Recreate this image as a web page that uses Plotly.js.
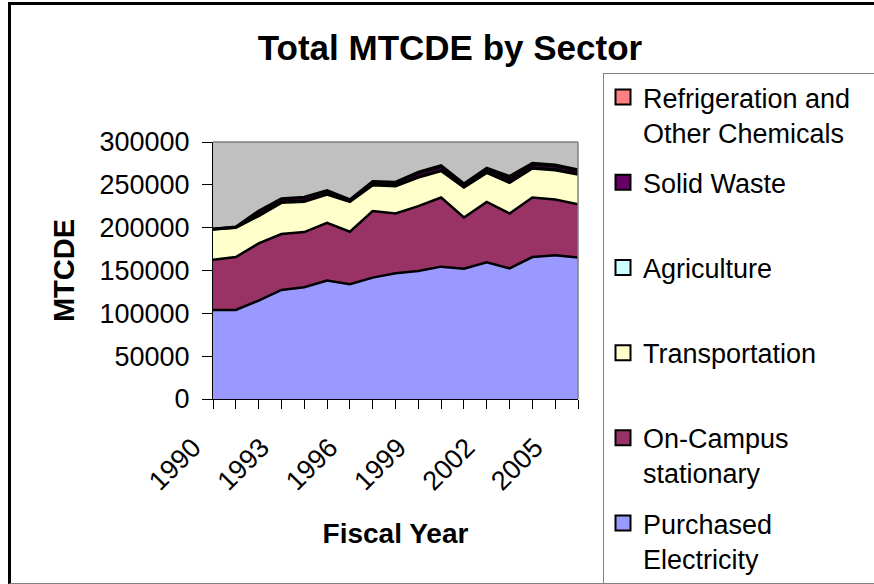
<!DOCTYPE html>
<html>
<head>
<meta charset="utf-8">
<script src="https://cdn.plot.ly/plotly-3.0.1.min.js"></script>
<style>
  html, body { margin: 0; padding: 0; background: #fff; overflow: hidden; }
  #wrap { position: relative; width: 874px; height: 584px; overflow: hidden; }
  #chart { position: absolute; left: 0; top: 0; width: 874px; height: 584px; }
  #frame { position: absolute; left: 8px; top: 2px; width: 900px; height: 578px;
           border-left: 3px solid #000; border-top: 3px solid #000; border-bottom: 1px solid #808080;
           pointer-events: none; }
  #legendbox { position: absolute; left: 603px; top: 73px; width: 400px; height: 600px;
           border-left: 1px solid #808080; border-top: 1px solid #808080; pointer-events: none; }
</style>
</head>
<body>
<div id="wrap">
  <div id="chart"></div>
  <div id="frame"></div>
  <div id="legendbox"></div>
</div>
<script>
// ---- data ----
const years = [1990, 1991, 1992, 1993, 1994, 1995, 1996, 1997, 1998, 1999, 2000, 2001, 2002, 2003, 2004, 2005, 2006];
const tickLabels = ['1990', '', '', '1993', '', '', '1996', '', '', '1999', '', '', '2002', '', '', '2005', ''];

const purchasedElectricity = [104000, 104000, 114900, 127300, 130400, 138200, 133900, 141700, 146700, 149400, 154500, 152100, 159500, 152500, 165700, 167700, 165300];
const onCampusStationary   = [58600, 61700, 66700, 65200, 64400, 67500, 61300, 77600, 69900, 75700, 80700, 59800, 70600, 64100, 69500, 65200, 62100];
const transportation       = [35300, 34200, 31900, 36500, 35300, 33000, 34900, 30200, 31800, 33400, 31000, 34900, 33800, 35700, 33800, 34100, 34600];
const agriculture          = [300, 300, 1200, 1200, 1200, 1200, 1100, 1100, 1100, 1100, 1100, 1100, 1100, 1100, 1100, 1100, 1100];
const solidWaste           = [300, 500, 3500, 3000, 3300, 2800, 1200, 2600, 2800, 3800, 3800, 2600, 3300, 3700, 3500, 3700, 3200];
const refrigeration        = [200, 300, 1500, 800, 1200, 1000, 500, 1000, 1100, 1600, 1600, 1000, 1500, 3000, 1800, 1800, 1500];

const seriesNames = ['Purchased<br>Electricity', 'On-Campus<br>stationary', 'Transportation<br> ', 'Agriculture<br> ', 'Solid Waste<br> ', 'Refrigeration and<br>Other Chemicals'];
const seriesColors = ['#9999FF', '#993366', '#FFFFCC', '#CCFFFF', '#660066', '#FF8080'];
const seriesValues = [purchasedElectricity, onCampusStationary, transportation, agriculture, solidWaste, refrigeration];

const yTicks = [0, 50000, 100000, 150000, 200000, 250000, 300000];

// ---- traces ----
const FONT = 'Liberation Sans, Arial, sans-serif';
const traces = [];
seriesValues.forEach((vals, i) => {
  traces.push({
    type: 'scatter', mode: 'lines', x: years, y: vals,
    stackgroup: 'one', fillcolor: seriesColors[i],
    line: { color: '#000', width: 2.5 },
    showlegend: false, hoverinfo: 'skip'
  });
});
// legend entries (square swatches), top to bottom = reverse of stack order
for (let i = seriesValues.length - 1; i >= 0; i--) {
  traces.push({
    type: 'scatter', mode: 'markers', x: [null], y: [null],
    name: seriesNames[i], legendgroup: 'g' + i,
    marker: { symbol: 'square', size: 15, color: seriesColors[i], line: { color: '#000', width: 2 } },
    hoverinfo: 'skip'
  });
}

const layout = {
  width: 874, height: 584,
  paper_bgcolor: 'rgba(0,0,0,0)', plot_bgcolor: '#C0C0C0',
  margin: { l: 213, r: 296, t: 142, b: 185, autoexpand: false },
  font: { family: FONT, color: '#000' },
  showlegend: true,
  title: {
    text: '<b>Total MTCDE by Sector</b>',
    font: { family: FONT, size: 35, color: '#000' },
    x: 450 / 874, xref: 'container', xanchor: 'center',
    y: 1 - 48 / 584, yref: 'container', yanchor: 'middle'
  },
  xaxis: {
    range: [years[0], years[years.length - 1]],
    tickvals: years, ticktext: tickLabels, tickangle: -45,
    ticks: 'outside', ticklen: 9, tickcolor: '#000', tickwidth: 1,
    ticklabelstandoff: 12, ticklabelshift: -20,
    showline: true, linecolor: '#000', linewidth: 1,
    showgrid: false, zeroline: false,
    tickfont: { family: FONT, size: 27, color: '#000' },
    title: { text: '<b>Fiscal Year</b>', standoff: 28, font: { family: FONT, size: 28, color: '#000' } },
    fixedrange: true
  },
  yaxis: {
    range: [0, 300000], tickvals: yTicks, tickformat: 'd',
    ticks: 'outside', ticklen: 10, tickcolor: '#000', tickwidth: 1,
    ticklabelstandoff: 7,
    showline: true, linecolor: '#000', linewidth: 1,
    showgrid: false, zeroline: false,
    tickfont: { family: FONT, size: 27, color: '#000' },
    title: { text: '<b>MTCDE</b>', standoff: 16, font: { family: FONT, size: 29, color: '#000' } },
    fixedrange: true
  },
  legend: {
    xref: 'container', yref: 'container',
    x: 603 / 874, xanchor: 'left',
    y: 1 - 73 / 584, yanchor: 'top',
    bgcolor: 'rgba(0,0,0,0)', borderwidth: 0,
    font: { family: FONT, size: 27, color: '#000' },
    traceorder: 'grouped', tracegroupgap: 12, valign: 'top',
    itemsizing: 'trace', maxheight: 600
  },
  shapes: [
    { type: 'line', xref: 'paper', yref: 'paper', x0: 0, x1: 1, y0: 1, y1: 1, line: { color: '#808080', width: 1.5 }, layer: 'above' },
    { type: 'line', xref: 'paper', yref: 'paper', x0: 1, x1: 1, y0: 0, y1: 1, line: { color: '#808080', width: 1.5 }, layer: 'above' }
  ]
};

Plotly.newPlot('chart', traces, layout, { displayModeBar: false, staticPlot: true });
</script>
</body>
</html>
